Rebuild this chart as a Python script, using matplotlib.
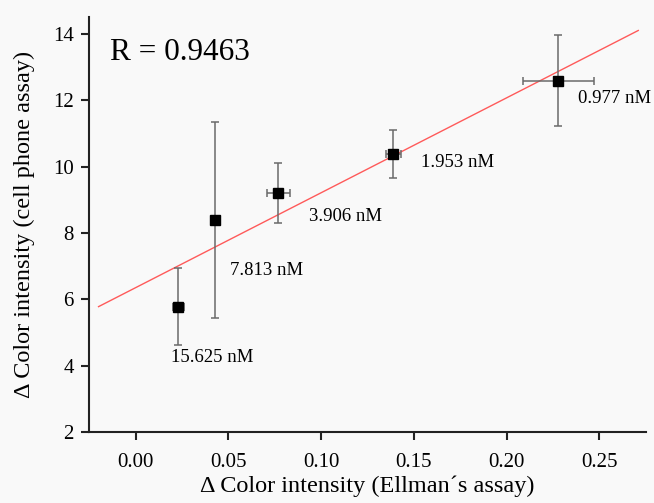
import numpy as np
import matplotlib
matplotlib.use("Agg")
import matplotlib.pyplot as plt

# Ellman's assay vs cell phone assay, one point per inhibitor concentration
conc_labels = ["15.625 nM", "7.813 nM", "3.906 nM", "1.953 nM", "0.977 nM"]
ellman = [0.0230, 0.0428, 0.0770, 0.1389, 0.2279]
ellman_err = [0.003, 0.001, 0.0062, 0.0041, 0.019]
phone = [5.78, 8.38, 9.20, 10.38, 12.59]
phone_err = [1.16, 2.95, 0.90, 0.72, 1.38]
r_text = "R = 0.9463"

# label offsets in points (dx, dy) from each marker
label_offsets = [(-5, -37), (11, -36), (22, -17), (20, -6), (14, -13)]

BG = "#f9f9f9"
plt.rcParams["font.family"] = ["Liberation Serif", "DejaVu Serif"]

fig = plt.figure(figsize=(6.54, 5.03), dpi=100, facecolor=BG)
ax = fig.add_axes([0.1365, 0.1412, 0.8508, 0.8244], facecolor=BG)

# linear fit drawn across the data range
slope, intercept = np.polyfit(ellman, phone, 1)
xfit = np.array([-0.020, 0.271])
ax.plot(xfit, slope * xfit + intercept, color="#ff5a5a", lw=1.0, zorder=1)

ax.errorbar(ellman, phone, xerr=ellman_err, yerr=phone_err, fmt="s",
            color="black", ms=7, ecolor="#6a6a6a", elinewidth=1.1,
            capsize=3, capthick=1.1, zorder=3)

for x, y, lab, (dx, dy) in zip(ellman, phone, conc_labels, label_offsets):
    ax.annotate(lab, (x, y), xytext=(dx, dy), textcoords="offset points",
                fontsize=13.5, ha="left", va="center")

ax.text(0.038, 0.915, r_text, transform=ax.transAxes, fontsize=22.5,
        ha="left", va="center")

ax.set_xlim(-0.025, 0.275)
ax.set_ylim(2, 14.5)
ax.set_xticks([0.00, 0.05, 0.10, 0.15, 0.20, 0.25])
ax.set_xticklabels(["0.00", "0.05", "0.10", "0.15", "0.20", "0.25"])
ax.set_yticks([2, 4, 6, 8, 10, 12, 14])

for side in ("top", "right"):
    ax.spines[side].set_visible(False)
for side in ("left", "bottom"):
    ax.spines[side].set_linewidth(1.5)
    ax.spines[side].set_color("#222222")

ax.tick_params(direction="out", length=6, width=1.5, labelsize=15,
               color="#222222", pad=5)
ax.tick_params(axis="x", pad=9)

ax.set_xlabel("Δ Color intensity (Ellman´s assay)", fontsize=17.5, labelpad=3)
ax.set_ylabel("Δ Color intensity (cell phone assay)", fontsize=17.5, labelpad=13)

fig.savefig("out.png", dpi=100, facecolor=BG)
